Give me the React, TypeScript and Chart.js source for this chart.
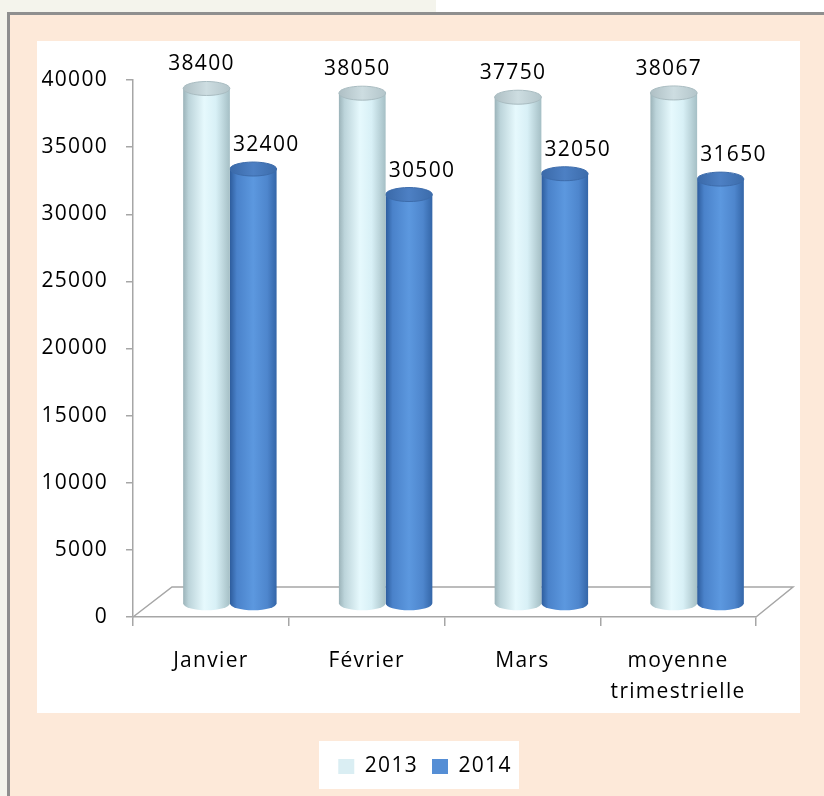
import React, { useEffect, useRef } from 'react';
import { Chart, registerables } from 'chart.js';

Chart.register(...registerables);

const categories: (string | string[])[] = ['Janvier', 'Février', 'Mars', ['moyenne', 'trimestrielle']];
const seriesNames = ['2013', '2014'];
const values2013 = [38400, 38050, 37750, 38067];
const values2014 = [32400, 30500, 32050, 31650];
const yMin = 0;
const yMax = 40000;
const yStep = 5000;

const FONT = "'Open Sans', sans-serif";
const SPACING = '1.3px';
const DX = 19;
const DY = -13;
const DEPTH_X = 39;
const DEPTH_Y = 30;
const AXIS_COLOR = '#a6a6a6';

const palettes = [
  {
    legend: '#daeef3',
    body: [[0, '#9bb3b9'], [0.12, '#bcd4da'], [0.45, '#e6f9fd'], [0.7, '#d8f0f6'], [1, '#a5bfc5']],
    top: [[0, '#aebfc4'], [0.5, '#cddde1'], [1, '#b3c5ca']],
    rim: '#a9bcc1',
  },
  {
    legend: '#558ed5',
    body: [[0, '#2d5c9c'], [0.15, '#4a82ca'], [0.5, '#5c98df'], [0.8, '#4e86cd'], [1, '#3466a8']],
    top: [[0, '#3a69a8'], [0.5, '#4d80c4'], [1, '#3c6cab']],
    rim: '#3d6cab',
  },
];

function drawCylinder(ctx: CanvasRenderingContext2D, cx: number, top: number, bottom: number, w: number, pal: any) {
  const rx = w / 2;
  const ry = 7;
  const left = cx - rx;
  const right = cx + rx;
  const g = ctx.createLinearGradient(left, 0, right, 0);
  pal.body.forEach(([o, c]: [number, string]) => g.addColorStop(o, c));
  ctx.beginPath();
  ctx.moveTo(left, top);
  ctx.lineTo(left, bottom);
  ctx.ellipse(cx, bottom, rx, ry, 0, Math.PI, 0, true);
  ctx.lineTo(right, top);
  ctx.closePath();
  ctx.fillStyle = g;
  ctx.fill();
  const tg = ctx.createLinearGradient(left, 0, right, 0);
  pal.top.forEach(([o, c]: [number, string]) => tg.addColorStop(o, c));
  ctx.beginPath();
  ctx.ellipse(cx, top, rx, ry, 0, 0, Math.PI * 2);
  ctx.fillStyle = tg;
  ctx.fill();
  ctx.lineWidth = 1;
  ctx.strokeStyle = pal.rim;
  ctx.stroke();
}

const spacingPlugin = {
  id: 'spacing',
  beforeUpdate(chart: any) { (chart.ctx as any).letterSpacing = SPACING; },
  beforeLayout(chart: any) { (chart.ctx as any).letterSpacing = SPACING; },
  beforeDraw(chart: any) { (chart.ctx as any).letterSpacing = SPACING; },
};

const cylinderPlugin = {
  id: 'cylinders',
  beforeDatasetsDraw(chart: any) {
    const { ctx, chartArea } = chart;
    ctx.save();
    ctx.strokeStyle = AXIS_COLOR;
    ctx.lineWidth = 1.5;
    ctx.beginPath();
    ctx.moveTo(chartArea.left, chartArea.bottom);
    ctx.lineTo(chartArea.left + DEPTH_X, chartArea.bottom - DEPTH_Y);
    ctx.lineTo(chartArea.right + DEPTH_X - 2, chartArea.bottom - DEPTH_Y);
    ctx.lineTo(chartArea.right, chartArea.bottom);
    ctx.stroke();
    ctx.restore();
  },
  beforeDatasetDraw(chart: any, args: any) {
    const { ctx } = chart;
    const meta = args.meta;
    const pal = palettes[args.index];
    ctx.save();
    meta.data.forEach((el: any) => {
      const p = el.getProps(['x', 'y', 'base', 'width'], true);
      drawCylinder(ctx, p.x + DX, p.y + DY, p.base + DY, p.width, pal);
    });
    ctx.restore();
    return false;
  },
  afterDatasetsDraw(chart: any) {
    const { ctx } = chart;
    ctx.save();
    (ctx as any).letterSpacing = SPACING;
    ctx.font = `21px ${FONT}`;
    ctx.fillStyle = '#000';
    ctx.textAlign = 'center';
    ctx.textBaseline = 'middle';
    chart.data.datasets.forEach((ds: any, di: number) => {
      const meta = chart.getDatasetMeta(di);
      const off = di === 0 ? -5 : 13;
      meta.data.forEach((el: any, i: number) => {
        const p = el.getProps(['x', 'y'], true);
        ctx.fillText(String(ds.data[i]), p.x + DX + off, p.y + DY - 24);
      });
    });
    ctx.restore();
  },
};

export default function App() {
  const ref = useRef<HTMLCanvasElement | null>(null);
  useEffect(() => {
    if (!ref.current) return;
    const chart = new Chart(ref.current, {
      type: 'bar',
      data: {
        labels: categories as any,
        datasets: [
          { label: seriesNames[0], data: values2013, backgroundColor: palettes[0].legend, borderWidth: 0 },
          { label: seriesNames[1], data: values2014, backgroundColor: palettes[1].legend, borderWidth: 0 },
        ],
      },
      options: {
        animation: false,
        responsive: false,
        devicePixelRatio: 1,
        layout: { padding: { top: 80, left: 37, right: 11, bottom: 9 } },
        datasets: { bar: { categoryPercentage: 0.6, barPercentage: 1.0 } } as any,
        plugins: {
          tooltip: { enabled: false },
          legend: {
            position: 'bottom',
            labels: {
              boxWidth: 16,
              boxHeight: 15,
              padding: 14,
              color: '#000',
              font: { family: FONT, size: 21 },
            },
          },
        },
        scales: {
          x: {
            grid: { drawOnChartArea: false, drawTicks: true, tickLength: 9, color: AXIS_COLOR, lineWidth: 1.5 },
            border: { display: true, color: AXIS_COLOR, width: 1.5 },
            ticks: { color: '#000', padding: 20, font: { family: FONT, size: 21, lineHeight: 1.45 }, maxRotation: 0, autoSkip: false },
            afterFit: (s: any) => { s.height = 125; },
          },
          y: {
            min: yMin,
            max: yMax,
            grid: { drawOnChartArea: false, drawTicks: true, tickLength: 7, color: AXIS_COLOR, lineWidth: 1.5 },
            border: { display: true, color: AXIS_COLOR, width: 1.5 },
            ticks: { stepSize: yStep, color: '#000', padding: 18, font: { family: FONT, size: 21 }, callback: (v: any) => String(v) },
            afterFit: (s: any) => { s.width = 96; },
          },
          y2: {
            position: 'right',
            display: true,
            grid: { display: false },
            border: { display: false },
            ticks: { display: false },
            afterFit: (s: any) => { s.width = 57; },
          },
        },
      },
      plugins: [spacingPlugin, cylinderPlugin],
    });
    return () => chart.destroy();
  }, []);

  return (
    <div style={{ position: 'fixed', left: 0, top: 0, width: 824, height: 796, background: '#f4f4ec', overflow: 'hidden' }}>
      <div style={{ position: 'absolute', left: 436, top: 0, width: 388, height: 12, background: '#ffffff' }} />
      <div style={{ position: 'absolute', left: 7, top: 12, width: 830, height: 800, background: '#fde9d9', boxSizing: 'border-box', borderTop: '3px solid #8f8f8f', borderLeft: '3px solid #8f8f8f' }} />
      <div style={{ position: 'absolute', left: 37, top: 41, width: 763, height: 672, background: '#ffffff' }} />
      <div style={{ position: 'absolute', left: 319, top: 741, width: 200, height: 48, background: '#ffffff' }} />
      <canvas ref={ref} width={824} height={796} style={{ position: 'absolute', left: 0, top: 0, width: 824, height: 796, display: 'block' }} />
    </div>
  );
}
